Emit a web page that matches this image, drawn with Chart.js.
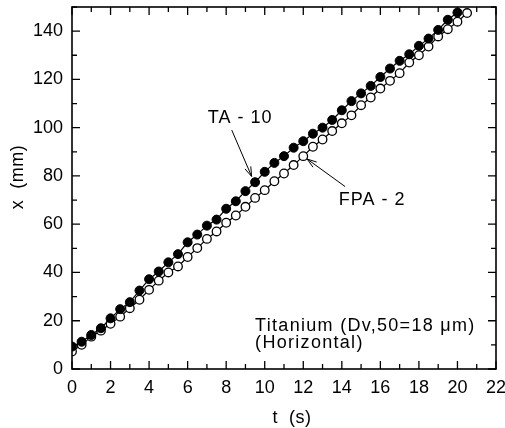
<!DOCTYPE html>
<html>
<head>
<meta charset="utf-8">
<script src="https://cdn.jsdelivr.net/npm/chart.js@4.4.0/dist/chart.umd.min.js"></script>
<style>
  html, body { margin: 0; padding: 0; background: #fff; }
  #wrap { width: 505px; height: 428px; }
</style>
</head>
<body>
<div id="wrap"><canvas id="chart"></canvas></div>
<script>
// TA-10 (filled circles)
const taTimes = [0, 0.5, 1, 1.5, 2, 2.5, 3, 3.5, 4, 4.5, 5, 5.5, 6, 6.5, 7, 7.5, 8, 8.5, 9, 9.5,
    10, 10.5, 11, 11.5, 12, 12.5, 13, 13.5, 14, 14.5, 15, 15.5, 16, 16.5, 17, 17.5, 18, 18.5, 19, 19.5, 20];
const taValues = [9.3, 11.3, 14.1, 16.9, 21.0, 24.8, 27.7, 32.5, 37.2, 40.4, 44.2, 47.6, 52.5, 55.7, 59.4, 61.9,
    66.4, 69.5, 73.7, 77.4, 81.7, 85.4, 88.2, 91.7, 94.4, 97.5, 100.0, 103.2, 107.2, 111.0, 114.2, 117.3,
    121.0, 124.5, 127.7, 130.4, 133.9, 136.9, 140.5, 144.7, 147.7];

// FPA-2 (open circles)
const fpaTimes = [0, 0.5, 1, 1.5, 2, 2.5, 3, 3.5, 4, 4.5, 5, 5.5, 6, 6.5, 7, 7.5, 8, 8.5, 9, 9.5,
    10, 10.5, 11, 11.5, 12, 12.5, 13, 13.5, 14, 14.5, 15, 15.5, 16, 16.5, 17, 17.5, 18, 18.5, 19, 19.5, 20, 20.5];
const fpaValues = [7.2, 10.0, 13.4, 15.9, 18.7, 21.7, 25.2, 28.7, 32.8, 36.6, 40.0, 42.5, 46.4, 50.1, 53.9, 57.0,
    60.6, 63.6, 67.2, 70.9, 74.1, 77.8, 81.0, 84.5, 88.2, 92.1, 95.1, 98.6, 101.8, 105.1, 109.3, 112.5,
    116.2, 119.4, 122.6, 127.0, 130.0, 133.6, 137.8, 140.8, 143.9, 147.5];

// axis ranges / ticks
const xRange = [0, 22];
const yRange = [0, 150];
const xMajor = [0, 2, 4, 6, 8, 10, 12, 14, 16, 18, 20, 22];
const yMajor = [0, 20, 40, 60, 80, 100, 120, 140];
const xTitle = "t  (s)";
const yTitle = "x  (mm)";

// annotations in data coords: [text, text x, text y, arrow start x, y, arrow tip x, y]
const taNote = ["TA - 10", 8.72, 103.9, 8.29, 99.0, 9.32, 79.8];
const fpaNote = ["FPA - 2", 15.57, 70.0, 14.17, 75.6, 12.2, 87.0];
const infoLines = ["Titanium (Dv,50=18 \u03bcm)", "(Horizontal)"];
const infoPos = [9.5, 18.0, 10.6];

const FONT = '"Liberation Sans", Arial, sans-serif';

function toXY(arrT, arrV) {
    return arrT.map((t, i) => ({ x: t, y: arrV[i] }));
}

function drawArrow(ctx, x1, y1, x2, y2) {
    const ang = Math.atan2(y2 - y1, x2 - x1);
    const len = 10;
    ctx.beginPath();
    ctx.moveTo(x1, y1);
    ctx.lineTo(x2, y2);
    ctx.moveTo(x2 - len * Math.cos(ang - 0.32), y2 - len * Math.sin(ang - 0.32));
    ctx.lineTo(x2, y2);
    ctx.lineTo(x2 - len * Math.cos(ang + 0.32), y2 - len * Math.sin(ang + 0.32));
    ctx.stroke();
}

// inward ticks on all four sides, frame, axis titles and text notes
const framePlugin = {
    id: "frame",
    afterDraw(chart) {
        const { ctx, chartArea: a, scales } = chart;
        const sx = scales.x, sy = scales.y;
        ctx.save();
        ctx.strokeStyle = "#000";
        ctx.lineWidth = 1.6;
        ctx.strokeRect(a.left, a.top, a.right - a.left, a.bottom - a.top);

        ctx.lineWidth = 1.3;
        ctx.beginPath();
        for (let v = xRange[0]; v <= xRange[1]; v += 1) {
            const px = sx.getPixelForValue(v);
            const l = xMajor.includes(v) ? 8 : 5;
            ctx.moveTo(px, a.bottom); ctx.lineTo(px, a.bottom - l);
            ctx.moveTo(px, a.top); ctx.lineTo(px, a.top + l);
        }
        for (let v = yRange[0]; v <= yRange[1]; v += 10) {
            const py = sy.getPixelForValue(v);
            const l = yMajor.includes(v) ? 8 : 5;
            ctx.moveTo(a.left, py); ctx.lineTo(a.left + l, py);
            ctx.moveTo(a.right, py); ctx.lineTo(a.right - l, py);
        }
        ctx.stroke();

        ctx.fillStyle = "#000";
        ctx.lineWidth = 1;
        ctx.font = "18px " + FONT;
        ctx.textAlign = "center";
        ctx.textBaseline = "middle";

        // axis titles
        ctx.letterSpacing = "0.5px";
        ctx.fillText(xTitle, 292, 418);
        ctx.save();
        ctx.translate(18, 177);
        ctx.rotate(-Math.PI / 2);
        ctx.fillText(yTitle, 0, 0);
        ctx.restore();

        ctx.letterSpacing = "1px";
        [taNote, fpaNote].forEach((n) => {
            ctx.fillText(n[0], sx.getPixelForValue(n[1]), sy.getPixelForValue(n[2]));
            drawArrow(ctx, sx.getPixelForValue(n[3]), sy.getPixelForValue(n[4]),
                sx.getPixelForValue(n[5]), sy.getPixelForValue(n[6]));
        });

        ctx.letterSpacing = "1.3px";
        ctx.textAlign = "left";
        ctx.fillText(infoLines[0], sx.getPixelForValue(infoPos[0]), sy.getPixelForValue(infoPos[1]));
        ctx.fillText(infoLines[1], sx.getPixelForValue(infoPos[0]), sy.getPixelForValue(infoPos[2]));
        ctx.restore();
    },
};

const ctx = document.getElementById("chart");
new Chart(ctx, {
    type: "scatter",
    data: {
        datasets: [
            {
                label: "TA - 10",
                data: toXY(taTimes, taValues),
                showLine: true,
                borderColor: "#000",
                borderWidth: 1.2,
                pointRadius: 4.5,
                pointBackgroundColor: "#000",
                pointBorderColor: "#000",
                pointBorderWidth: 1,
            },
            {
                label: "FPA - 2",
                data: toXY(fpaTimes, fpaValues),
                showLine: true,
                borderColor: "#000",
                borderWidth: 1.2,
                pointRadius: 4.3,
                pointBackgroundColor: "#fff",
                pointBorderColor: "#000",
                pointBorderWidth: 1.3,
            },
        ],
    },
    options: {
        responsive: true,
        maintainAspectRatio: false,
        animation: false,
        layout: { padding: { top: 7, right: 9, left: 0, bottom: 0 } },
        plugins: {
            legend: { display: false },
            tooltip: { enabled: false },
        },
        scales: {
            x: {
                type: "linear",
                min: xRange[0],
                max: xRange[1],
                grid: { display: false, drawTicks: false },
                border: { display: false },
                ticks: {
                    stepSize: 2,
                    padding: 8,
                    color: "#000",
                    font: { family: FONT, size: 18 },
                    maxRotation: 0,
                },
                afterFit(scale) {
                    scale.height = 59;
                    scale.paddingLeft = 0;
                    scale.paddingRight = 0;
                },
            },
            y: {
                type: "linear",
                min: yRange[0],
                max: yRange[1],
                grid: { display: false, drawTicks: false },
                border: { display: false },
                ticks: {
                    stepSize: 20,
                    padding: 9,
                    color: "#000",
                    font: { family: FONT, size: 18 },
                    callback: (v) => (yMajor.includes(v) ? v : ""),
                },
                afterFit(scale) {
                    scale.width = 72;
                    scale.paddingTop = 0;
                    scale.paddingBottom = 0;
                },
            },
        },
    },
    plugins: [framePlugin],
});
</script>
</body>
</html>
